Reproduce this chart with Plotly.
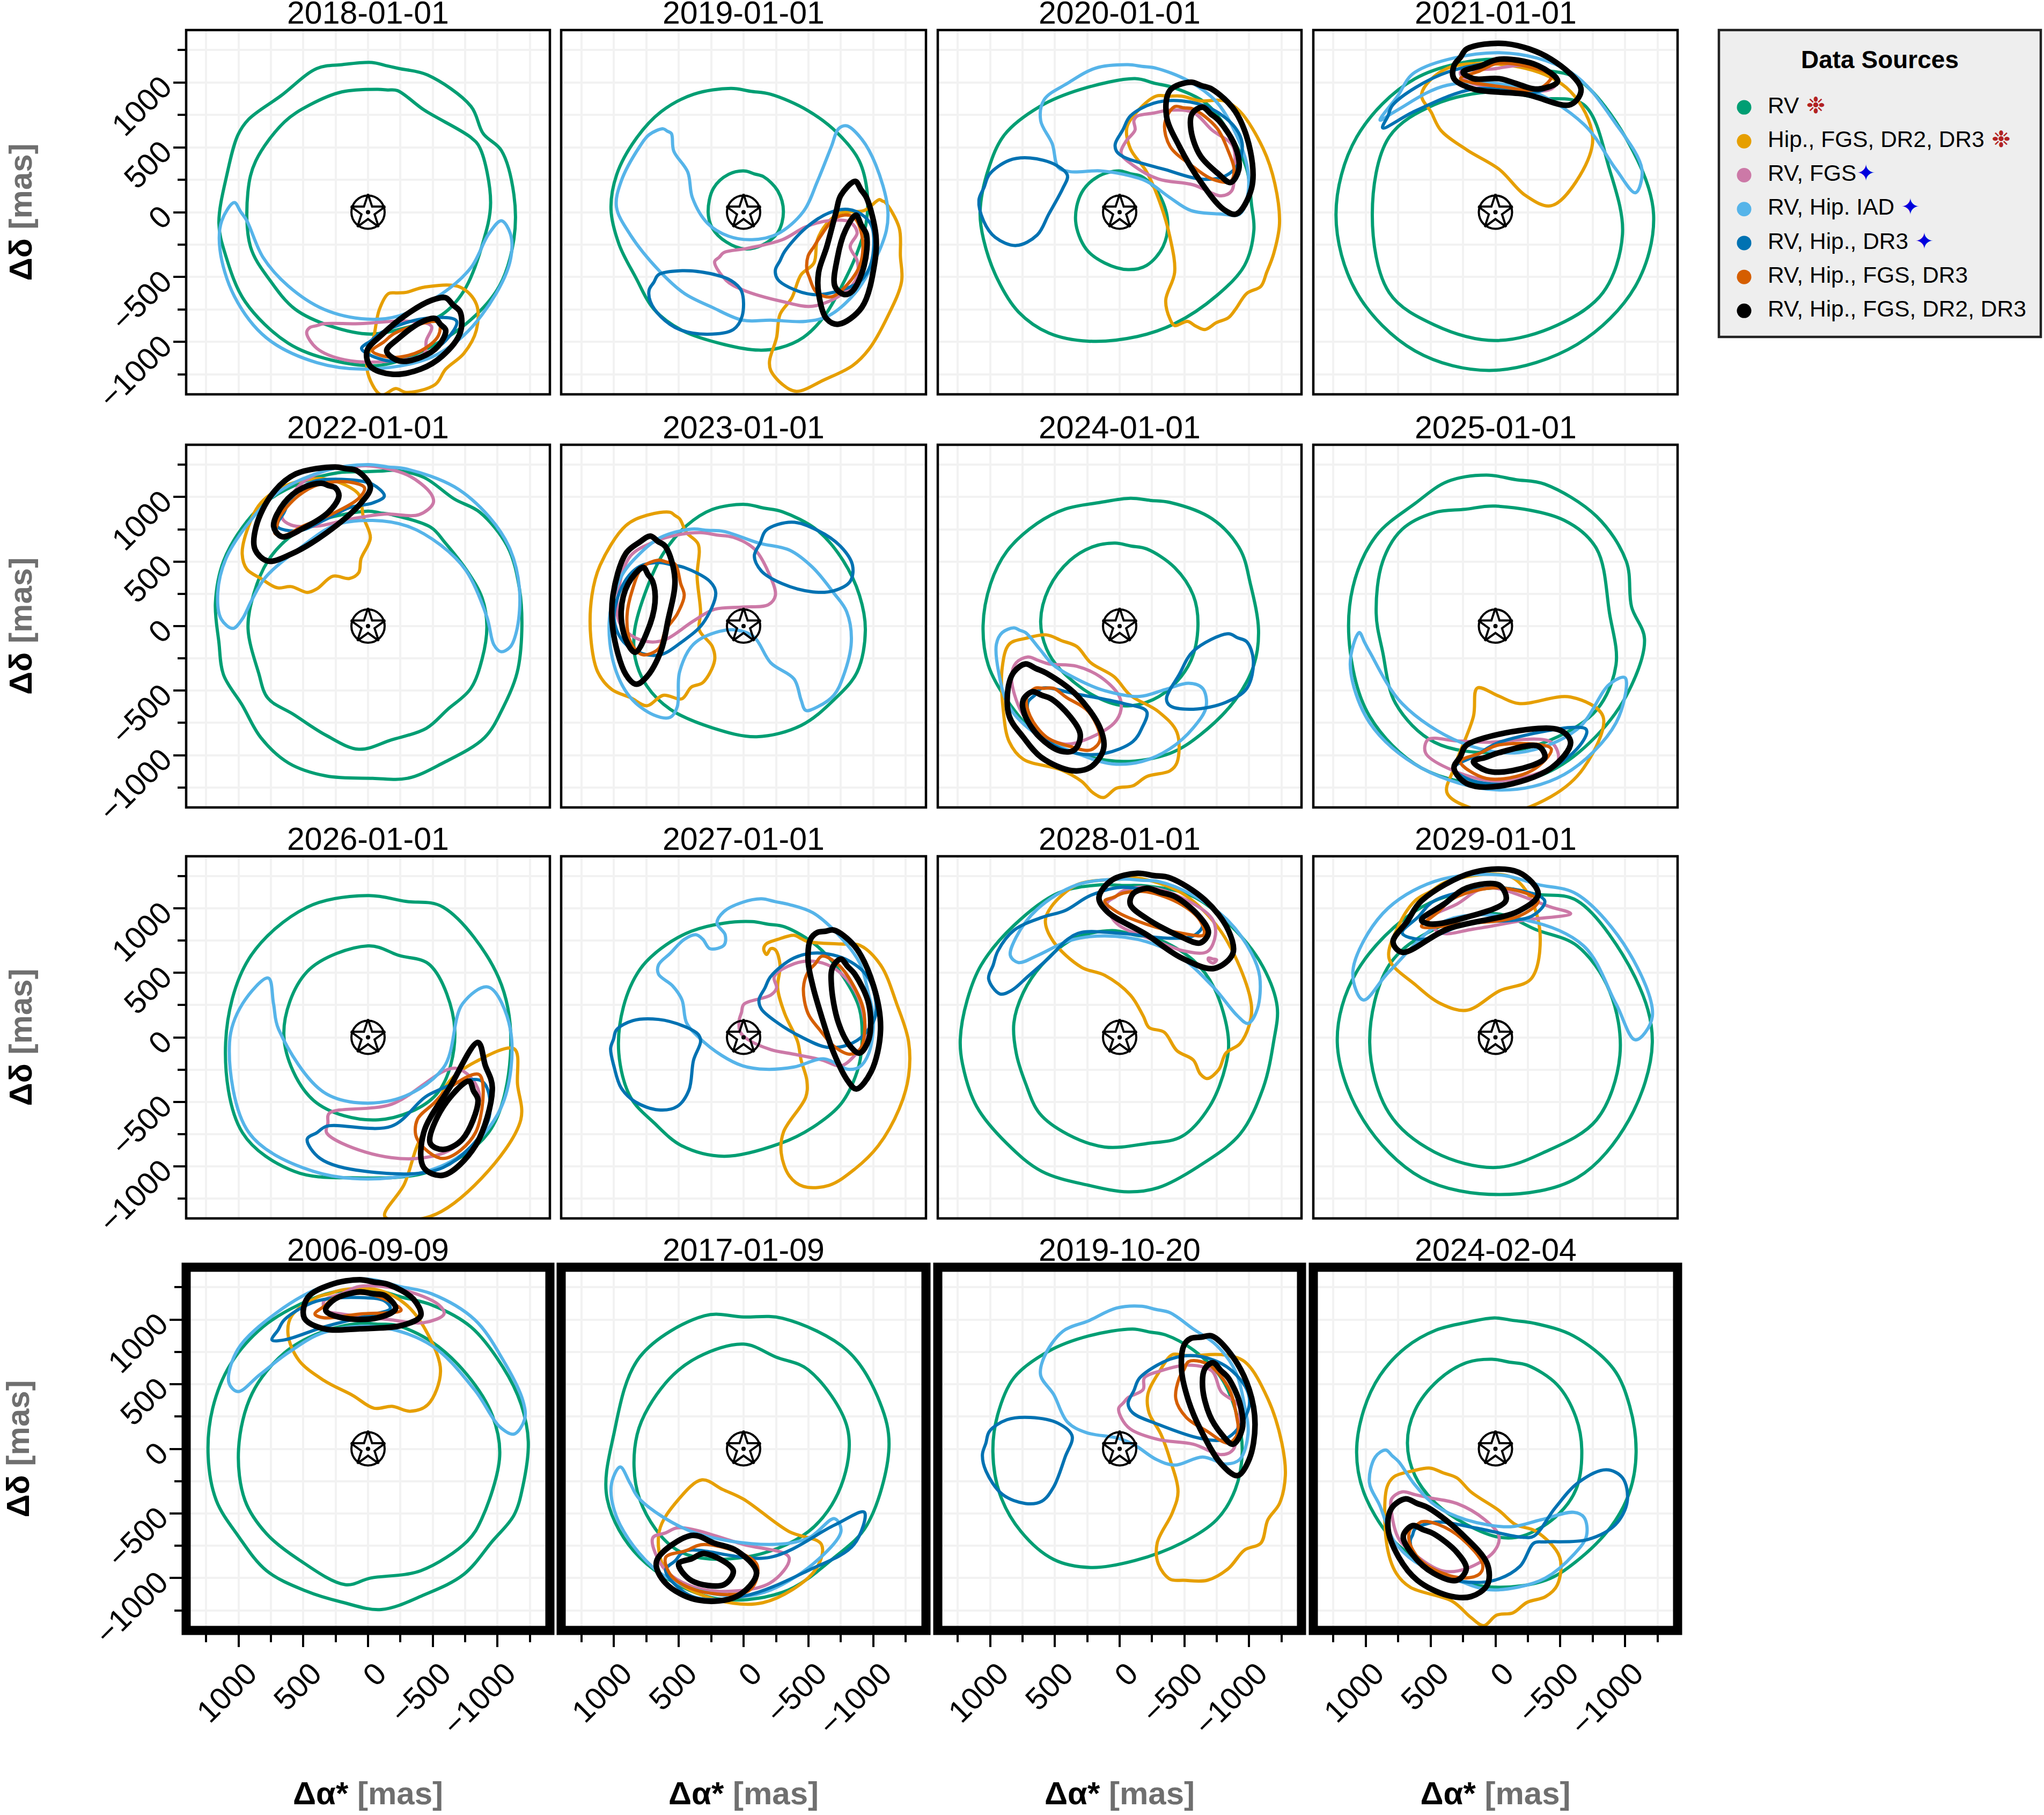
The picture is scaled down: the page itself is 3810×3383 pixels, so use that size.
import plotly.graph_objects as go

W, H = 3810, 3383
DATES = ["2018-01-01","2019-01-01","2020-01-01","2021-01-01",
         "2022-01-01","2023-01-01","2024-01-01","2025-01-01",
         "2026-01-01","2027-01-01","2028-01-01","2029-01-01",
         "2006-09-09","2017-01-09","2019-10-20","2024-02-04"]
SOURCES = ["RV","Hip., FGS, DR2, DR3","RV, FGS","RV, Hip. IAD","RV, Hip., DR3","RV, Hip., FGS, DR3","RV, Hip., FGS, DR2, DR3"]
COLORS = ["#009E73","#E69F00","#CC79A7","#56B4E9","#0072B2","#D55E00","#000000"]

# Contours in mas: flat x,y,x,y,... lists; each source has one or two closed contours
a18_rv = [[-30,1155,-240,1108,-460,1058,-795,817,-890,606,-1030,476,-1127,135,-1127,-207,-1016,-568,-795,-829,-462,-1050,-100,-1180,285,-1140,618,-1010,950,-689,1102,-327,1152,-86,1089,295,1005,596,922,717,673,898,396,1108,200,1138],
          [-75,948,-227,938,-435,787,-795,576,-864,496,-947,74,-878,-267,-740,-608,-573,-789,-296,-889,-19,-940,285,-880,562,-749,756,-528,908,-267,928,155,867,396,645,697,451,827,202,928]]
a18_hip = [[-158,-628,-296,-618,-435,-578,-712,-578,-837,-709,-837,-910,-740,-1090,-600,-1211,-518,-1330,-296,-1390,-213,-1360,-102,-1410,8,-1210,-47,-950,-88,-749]]
a18_fgs = [[450,-890,340,-860,64,-860,-296,-840,-490,-880,-450,-990,-435,-1090,-158,-1150,175,-1140,396,-1050,474,-930]]
a18_iad = [[1033,74,936,-66,812,-347,618,-568,341,-749,8,-825,-241,-799,-573,-628,-795,-428,-933,-167,-1030,-66,-1100,-167,-1100,-367,-989,-628,-740,-950,-463,-1130,8,-1210,396,-1160,784,-970,1033,-648,1144,-287,1130,-66]]
a18_dr3 = [[50,-1050,-100,-930,-435,-820,-684,-840,-600,-990,-407,-1110,-185,-1150,8,-1090]]
a18_mix = [[-33,-1070,-213,-930,-545,-850,-545,-950,-407,-1070,-185,-1120]]
a18_all = [[-600,-660,-712,-770,-712,-930,-573,-1110,-407,-1210,-185,-1250,-19,-1190,8,-1070,-102,-950,-296,-790,-490,-680],
           [-518,-820,-600,-910,-545,-1030,-407,-1120,-240,-1147,-144,-1070,-240,-970,-407,-850]]

a19_rv = [[97,955,-208,910,-495,784,-729,605,-890,398,-953,147,-944,-86,-872,-320,-765,-553,-621,-804,-460,-966,-280,-1046,-118,-1064,151,-1020,474,-912,689,-750,833,-499,959,-248,1021,22,977,291,833,560,635,775,384,910],
          [-10,318,-155,273,-263,165,-307,4,-263,-158,-137,-257,-11,-284,133,-230,241,-122,273,4,232,184,115,292]]
a19_hip = [[-1046,97,-1091,76,-1199,-122,-1208,-338,-1217,-536,-1109,-806,-965,-1058,-839,-1184,-623,-1292,-407,-1382,-299,-1328,-209,-1220,-200,-1148,-254,-968,-281,-788,-371,-662,-443,-482,-542,-392,-569,-212,-659,-68,-749,-5,-929,13]]
a19_fgs = [[223,-383,151,-311,-29,-279,-299,-212,-479,-113,-659,-65,-821,-77,-875,-158,-821,-266,-875,-374,-875,-500,-767,-626,-533,-725,-299,-689,7,-599,133,-527]]
a19_iad = [[619,643,556,607,538,472,430,310,394,112,277,-86,115,-185,-65,-212,-263,-167,-460,4,-569,238,-677,508,-731,643,-794,666,-911,562,-1019,364,-1109,40,-1100,-140,-983,-428,-857,-626,-659,-797,-479,-842,-209,-833,7,-833,241,-734,457,-626,655,-446,871,-176,979,40,943,238,799,508,727,598]]
a19_dr3 = [[-245,-446,-317,-302,-479,-122,-659,-5,-803,22,-929,-32,-992,-122,-983,-392,-893,-536,-695,-617,-533,-635,-353,-581,-263,-518],
           [727,-599,655,-482,493,-452,259,-473,97,-527,16,-608,11,-802,79,-905,277,-941,493,-905,637,-806,718,-689]]
a19_mix = [[-497,-338,-587,-194,-713,-41,-839,-32,-911,-176,-902,-392,-803,-554,-677,-653,-560,-617,-506,-500,-488,-446]]
a19_all = [[-860,238,-947,112,-1019,-176,-1010,-392,-911,-734,-731,-864,-641,-824,-578,-626,-578,-464,-641,-266,-713,4,-749,130],
           [-866,-23,-947,-176,-929,-410,-839,-608,-776,-635,-704,-572,-722,-356,-785,-140]]

a20_rv = [[-119,1030,-425,958,-677,832,-875,562,-983,328,-1019,58,-1037,-140,-965,-410,-749,-644,-425,-860,-137,-959,241,-995,547,-932,781,-770,943,-518,1051,-212,1078,4,1015,328,889,598,619,814,295,949],
          [7,319,-173,274,-299,148,-371,-68,-335,-266,-209,-410,-65,-443,115,-392,259,-284,340,-68,295,148,169,274]]
a20_hip = [[-281,895,-479,895,-623,859,-803,859,-929,778,-1109,490,-1199,220,-1235,-86,-1190,-320,-1136,-464,-1091,-572,-983,-626,-893,-752,-839,-815,-749,-851,-659,-905,-587,-878,-524,-842,-425,-875,-389,-824,-356,-680,-425,-464,-389,-194,-317,58,-209,310,-83,490,-56,652,-137,778]]
a20_fgs = [[-137,742,-389,787,-569,769,-713,634,-875,508,-884,292,-866,166,-785,126,-569,211,-299,256,-101,364,-11,454,-47,544,-119,634,-110,706]]
a20_iad = [[-65,1138,-281,1111,-533,1012,-749,850,-893,616,-983,364,-992,148,-929,-14,-785,-14,-551,13,-389,112,-209,238,-29,292,151,319,385,313,475,346,520,526,610,706,583,868,403,994,187,1111]]
a20_dr3 = [[34,526,-83,742,-263,841,-479,859,-713,796,-893,652,-947,526,-911,364,-803,274,-623,256,-353,328,-29,427,25,472],
           [1087,94,1006,292,853,400,691,418,493,364,403,283,439,184,547,-14,637,-176,799,-257,961,-194,1051,-68]]
a20_mix = [[-425,814,-569,796,-749,652,-839,472,-884,328,-857,238,-713,256,-551,364,-389,508,-349,688]]
a20_all = [[-551,1003,-713,949,-893,778,-1010,472,-1019,184,-902,-14,-803,22,-623,238,-461,508,-362,742,-389,940],
           [-641,810,-767,706,-893,508,-920,328,-857,229,-767,292,-623,436,-551,634,-560,760]]

a21_rv = [[0,1180,-630,1030,-1030,530,-1220,-20,-1080,-570,-630,-1020,20,-1220,620,-1070,1070,-620,1230,-20,1070,580,620,1030],
          [0,930,-680,830,-880,330,-980,-170,-830,-620,-480,-870,0,-990,470,-870,820,-620,950,-20,820,580,470,830]]
a21_hip = [[570,910,420,630,220,480,-30,330,-230,130,-430,50,-650,280,-750,580,-580,930,-230,1110,370,1110]]
a21_fgs = [[270,1080,-230,1130,-480,1030,-430,950,-130,950,220,1010]]
a21_iad = [[890,710,620,1080,-30,1230,-580,1080,-930,680,-1130,330,-1080,150,-930,330,-680,680,-230,950,370,980,770,780]]
a21_dr3 = [[870,650,790,830,370,1080,-230,1150,-480,1030,-330,930,170,950,620,780]]
a21_mix = [[270,1030,-30,1150,-430,1050,-330,950,-30,970]]
a21_all = [[320,1130,220,1260,-80,1300,-430,1180,-660,950,-580,830,-230,910,170,950,320,1030],
           [250,1080,-30,1180,-330,1130,-480,1010,-330,950,-30,1030,170,1030]]

a22_rv = [[0,1197,-216,1206,-432,1152,-666,985,-864,882,-1080,612,-1170,288,-1188,-36,-1152,-360,-1044,-630,-900,-864,-576,-1062,-306,-1179,-36,-1179,324,-1161,612,-1062,828,-864,972,-612,1116,-378,1152,-126,1179,180,1116,504,936,810,774,972,504,1116,234,1188],
          [0,891,-180,864,-486,765,-594,648,-774,414,-882,216,-918,0,-882,-252,-792,-486,-612,-648,-450,-792,-180,-882,72,-954,324,-846,576,-684,774,-558,846,-360,927,-18,882,252,774,504,612,684,396,810]]
a22_hip = [[360,1143,216,1111,72,1021,36,846,-18,684,54,522,72,414,144,369,270,387,396,288,468,261,594,306,702,297,828,369,936,441,972,558,936,738,828,954,612,1098]]
a22_fgs = [[252,1224,0,1242,-306,1170,-486,1026,-504,954,-396,864,-126,868,144,828,396,774,594,783,666,846,540,1080,414,1170]]
a22_iad = [[0,1251,-306,1215,-666,1080,-936,846,-1098,594,-1170,288,-1152,-18,-1098,-162,-1026,-198,-972,-144,-918,72,-756,432,-558,630,-306,774,-36,819,252,783,540,594,792,378,900,198,972,54,1044,-18,1134,54,1161,252,1098,522,900,828,684,1044,324,1206]]
a22_dr3 = [[702,774,594,990,432,1116,144,1134,-36,1098,-126,1008,-36,954,144,918,324,828,540,738]]
a22_mix = [[720,720,684,846,540,1008,378,1098,144,1116,27,1071,72,990,288,864,504,774,648,702]]
a22_all = [[252,1233,90,1206,-18,1080,54,954,324,720,594,558,774,504,873,594,864,774,738,1026,558,1179],
           [360,1107,252,1071,225,1008,306,882,504,756,666,693,729,774,648,954,504,1071]]

a23_rv = [[-11,943,-299,886,-569,742,-767,508,-893,238,-938,-32,-875,-356,-695,-572,-443,-770,-101,-857,241,-788,565,-644,745,-464,835,-248,839,-32,745,292,619,562,439,778,241,904]]
a23_hip = [[565,882,493,832,439,724,349,634,358,382,331,112,340,-32,241,-158,223,-266,313,-437,403,-473,475,-563,619,-536,745,-617,871,-554,1015,-491,1123,-356,1177,-86,1168,238,1105,472,907,778,745,859]]
a23_fgs = [[331,724,79,688,-83,598,-191,418,-245,238,-191,166,7,148,223,130,385,40,601,-104,727,-122,871,-68,961,40,961,292,871,544,691,652,511,706]]
a23_iad = [[403,751,151,733,-119,643,-353,589,-533,454,-695,256,-794,112,-830,-122,-767,-392,-695,-536,-569,-626,-479,-653,-443,-572,-389,-410,-209,-284,-83,-86,43,-32,187,-41,385,-140,493,-356,511,-626,565,-707,691,-689,871,-554,997,-302,1033,58,943,382,799,562,637,688]]
a23_dr3 = [[646,493,457,454,259,346,214,256,313,22,475,-122,637,-221,781,-212,925,-122,997,58,925,328,799,463],
           [-83,544,-173,742,-371,805,-569,742,-749,616,-839,472,-821,346,-695,274,-533,265,-299,328,-137,427]]
a23_mix = [[655,511,529,481,484,328,457,238,511,94,601,-32,655,-176,781,-221,871,-122,898,76,853,292,781,454]]
a23_all = [[718,697,601,616,529,364,583,40,637,-194,745,-392,826,-450,907,-374,1006,-32,1006,238,907,562,799,652],
           [772,454,700,346,682,184,745,-50,835,-203,907,-104,943,112,889,328]]

a24_rv = [[-83,990,-389,958,-713,832,-929,598,-1010,328,-1073,-32,-1037,-302,-893,-572,-623,-842,-389,-986,-29,-1049,331,-986,637,-842,871,-572,1015,-302,1055,4,997,328,871,580,637,796,421,907,151,958],
          [34,643,-209,598,-425,454,-569,238,-605,4,-551,-266,-389,-482,-209,-590,-29,-617,205,-536,457,-338,565,-176,610,40,547,292,385,508,205,616]]
a24_hip = [[565,-68,331,-158,223,-284,43,-392,-83,-536,-299,-662,-443,-824,-443,-1058,-389,-1121,-209,-1166,-101,-1238,25,-1256,124,-1328,205,-1292,295,-1202,457,-1112,745,-1031,853,-896,898,-662,907,-320,853,-140,727,-95]]
a24_fgs = [[709,-239,547,-293,331,-311,151,-392,7,-536,-11,-644,43,-752,259,-878,421,-914,601,-842,727,-716,799,-572,835,-392,799,-284]]
a24_iad = [[817,-14,727,-50,619,-176,511,-302,295,-428,115,-500,-155,-545,-353,-491,-533,-443,-641,-482,-668,-626,-569,-788,-389,-950,-173,-1049,61,-1067,331,-986,637,-842,853,-626,935,-356,952,-140,907,-50]]
a24_dr3 = [[-839,-59,-983,-122,-1033,-266,-983,-482,-821,-590,-569,-644,-389,-617,-362,-563,-461,-374,-569,-194],
           [709,-590,601,-482,331,-527,-29,-599,-209,-662,-173,-788,-101,-896,115,-986,331,-986,547,-896,691,-716]]
a24_mix = [[655,-482,511,-482,409,-554,241,-662,151,-878,223,-959,385,-932,565,-860,691,-698,718,-554]]
a24_all = [[727,-293,565,-365,331,-536,151,-790,124,-950,223,-1092,367,-1120,601,-1020,745,-860,853,-698,862,-482,817,-356],
           [673,-509,529,-563,385,-698,304,-842,349,-959,457,-968,619,-860,736,-680,745,-572]]

a25_rv = [[70,1170,-380,1100,-780,850,-1010,500,-1050,150,-1150,-100,-1030,-500,-780,-850,-430,-1120,0,-1230,570,-1100,970,-700,1120,-200,1100,300,920,700,620,950,370,1120],
          [470,880,0,930,-530,820,-780,600,-880,100,-930,-300,-780,-650,-430,-880,0,-980,470,-900,770,-600,870,-200,920,100,870,500,720,750]]
a25_hip = [[140,-480,-180,-600,-580,-550,-830,-700,-680,-1100,-430,-1320,-30,-1450,370,-1300,320,-1100,170,-700]]
a25_fgs = [[520,-880,70,-900,-430,-900,-480,-1050,-30,-1200,370,-1100,540,-980]]
a25_iad = [[1050,-50,970,-200,720,-600,270,-900,-180,-980,-630,-800,-880,-450,-1000,-400,-930,-750,-530,-1150,-30,-1270,570,-1100,970,-750,1120,-300]]
a25_dr3 = [[320,-1100,-30,-900,-700,-800,-630,-950,-230,-1200,170,-1200]]
a25_mix = [[270,-1050,-30,-920,-430,-950,-280,-1120,70,-1180]]
a25_all = [[320,-1100,220,-920,-480,-800,-580,-900,-430,-1100,-30,-1240,220,-1220],
           [170,-1050,-30,-980,-330,-930,-380,-1020,-130,-1120,70,-1120]]

a26_rv = [[0,1100,-580,1010,-1010,460,-1100,-140,-930,-740,-480,-1040,120,-1090,570,-1040,970,-740,1100,-40,920,610,470,1010],
          [0,710,-480,560,-670,60,-530,-440,-80,-640,420,-490,650,10,470,510]]
a26_hip = [[-1130,-90,-1180,-640,-880,-1090,-480,-1390,-130,-1390,-280,-1140,-380,-840,-480,-640,-630,-340,-830,-190]]
a26_fgs = [[320,-740,300,-590,-180,-520,-680,-240,-860,-440,-680,-840,-380,-940,20,-890]]
a26_iad = [[770,460,690,60,320,-440,-180,-490,-580,-240,-730,260,-930,390,-1100,60,-1030,-540,-680,-940,-180,-1090,420,-1040,920,-740,1070,-40,970,260]]
a26_dr3 = [[470,-790,320,-690,-180,-690,-480,-440,-880,-340,-930,-640,-580,-1010,20,-1040,370,-940]]
a26_mix = [[-380,-640,-630,-390,-860,-290,-830,-740,-580,-940,-380,-790]]
a26_all = [[-850,-40,-960,-390,-830,-840,-580,-1070,-430,-1010,-430,-740,-630,-390],
           [-780,-340,-850,-490,-730,-790,-580,-870,-480,-820,-580,-540]]

a27_rv = [[-65,898,-317,857,-569,706,-767,472,-893,220,-911,-68,-875,-266,-749,-518,-533,-698,-281,-824,151,-923,475,-842,691,-662,871,-464,961,-122,925,238,799,526,637,688,403,823,151,886]]
a27_hip = [[-389,792,-497,742,-749,724,-893,715,-1055,562,-1181,256,-1271,-32,-1271,-302,-1199,-554,-1037,-842,-857,-1022,-659,-1148,-461,-1157,-353,-1076,-290,-896,-308,-734,-479,-464,-488,-338,-443,-176,-416,-32,-317,184,-263,382,-281,562,-245,679,-209,688,-178,643,-155,684,-173,724,-263,760]]
a27_fgs = [[34,130,-2,256,-209,328,-254,382,-236,472,-389,571,-551,589,-713,526,-857,364,-929,148,-929,-32,-857,-140,-749,-221,-605,-176,-389,-131,-209,-95,-29,-14,25,40]]
a27_iad = [[-137,1075,-353,1030,-533,967,-713,814,-893,580,-965,328,-1001,148,-965,-122,-893,-230,-803,-248,-623,-167,-389,-230,-173,-248,7,-221,169,-140,349,4,439,112,475,292,547,400,655,490,655,562,565,652,457,760,367,796,313,760,259,688,151,715,142,796,205,886,151,976,7,1048]]
a27_dr3 = [[-119,292,-209,472,-389,616,-569,655,-803,598,-965,454,-1019,184,-929,22,-803,-59,-641,-77,-443,4,-263,112,-137,220],
           [1024,-86,979,58,853,130,655,139,457,85,349,22,331,-32,385,-176,421,-410,511,-536,655,-563,835,-500,943,-392,997,-230]]
a27_mix = [[-497,508,-605,630,-731,562,-857,382,-929,184,-902,-86,-821,-131,-695,-68,-587,58,-497,184,-461,382]]
a27_all = [[-569,814,-695,832,-857,706,-1001,400,-1055,58,-983,-266,-869,-401,-803,-338,-695,-122,-605,148,-533,400,-497,598,-515,760],
           [-749,607,-857,490,-965,256,-965,-14,-893,-122,-821,-68,-731,112,-677,400,-686,544]]

a28_rv = [[151,1183,-209,1174,-569,1093,-893,832,-1109,544,-1217,238,-1190,-32,-1109,-392,-929,-752,-605,-1004,-299,-1166,-65,-1199,241,-1148,601,-1040,871,-824,1105,-536,1213,-212,1231,-14,1177,292,1069,562,817,868,475,1120],
          [61,828,-299,760,-569,598,-731,382,-839,4,-821,-212,-695,-536,-479,-770,-209,-824,115,-851,403,-752,619,-590,727,-356,799,-122,817,112,745,346,601,562,367,760]]
a28_hip = [[79,1224,-137,1237,-479,1120,-749,868,-929,544,-1019,238,-1001,94,-929,-50,-821,-122,-767,-248,-677,-320,-623,-284,-569,-176,-443,-104,-344,40,-227,76,-182,166,-83,328,115,481,295,544,511,742,574,904,529,1012,331,1183]]
a28_fgs = [[97,1040,-29,1138,-209,1165,-479,1084,-713,922,-740,796,-677,665,-497,670,-299,742,25,886],
           [-686,616,-749,601,-722,576,-686,598]]
a28_iad = [[-29,1228,-299,1210,-569,1102,-839,904,-1019,652,-1082,472,-1064,220,-992,108,-911,166,-731,382,-479,616,-209,742,115,787,385,751,637,634,781,580,844,634,799,778,637,994,331,1183]]
a28_dr3 = [[1012,454,941,670,815,832,599,931,419,985,223,1102,-29,1165,-389,1084,-569,976,-641,868,-569,787,-389,769,-29,805,295,814,403,760,547,616,709,472,835,364,925,337]]
a28_mix = [[115,1057,-29,1120,-209,1129,-479,1030,-623,904,-650,796,-497,805,-209,877,25,976]]
a28_all = [[-137,1273,-389,1237,-659,1066,-839,832,-875,652,-731,535,-479,616,-209,796,97,976,160,1084,61,1219],
           [-209,1156,-425,1093,-605,950,-686,814,-623,733,-479,778,-209,922,-83,1030,-101,1111]]

a29_rv = [[0,1160,-630,1060,-1080,460,-1210,-40,-1030,-640,-630,-1090,-30,-1220,570,-1090,1020,-640,1220,-40,1070,510,570,1010],
          [0,960,-630,710,-880,360,-960,-140,-780,-640,-380,-890,0,-1010,470,-890,820,-590,970,-40,820,560,470,840]]
a29_hip = [[620,1060,370,1210,-130,1240,-330,910,-280,460,-30,360,220,210,420,260,620,410,820,610,750,860]]
a29_fgs = [[520,910,70,1160,-430,1010,-580,960,-230,910,170,840,420,810]]
a29_iad = [[-30,1260,-630,1110,-1030,660,-1210,160,-1080,-20,-930,260,-680,710,-230,910,370,910,820,510,1020,290,1100,510,870,960,470,1210]]
a29_dr3 = [[720,810,470,1060,-30,1160,-380,1060,-280,940,220,880,570,760]]
a29_mix = [[570,860,320,1080,-30,1160,-330,1060,-180,940,270,880]]
a29_all = [[790,740,570,1060,170,1280,-180,1280,-330,1110,-180,980,370,840,720,660],
           [570,910,220,1160,-30,1180,-80,1060,230,930,510,880]]

b06_rv = [[-47,1229,-490,1114,-795,943,-1044,629,-1183,343,-1238,57,-1197,-286,-1127,-514,-961,-714,-740,-971,-435,-1129,-102,-1243,202,-1186,479,-1100,784,-943,1005,-671,1172,-400,1235,-57,1200,314,1061,657,812,943,535,1114,258,1214],
          [64,971,-213,957,-490,829,-767,571,-961,257,-1017,-57,-878,-543,-767,-714,-407,-943,-19,-1000,175,-1051,535,-857,784,-657,950,-400,1000,0,895,429,645,743,368,900]]
b06_hip = [[396,1171,202,1229,-75,1229,-296,1114,-463,886,-560,600,-463,343,-324,291,-186,329,-47,314,119,414,341,529,535,686,618,886,590,1029]]
b06_fgs = [[341,1143,64,1257,-269,1229,-546,1114,-587,1043,-435,977,-158,1000,202,1043,327,1071]]
b06_iad = [[8,1314,-490,1200,-823,1000,-1044,686,-1197,371,-1210,229,-1127,114,-1017,171,-823,457,-490,800,-75,943,341,900,618,743,839,571,1005,443,1075,514,1005,771,701,1057,341,1257]]
b06_dr3 = [[742,843,645,1000,396,1143,64,1171,-130,1143,-172,1086,8,1029,341,943,645,843]]
b06_mix = [[410,1043,258,1171,8,1200,-213,1114,-255,1071,64,1043,341,1014]]
b06_all = [[64,1309,-158,1271,-352,1157,-407,1029,-269,957,64,929,341,929,493,1014,465,1171,285,1271],
           [64,1214,-130,1186,-213,1086,-75,1014,202,1014,327,1071,258,1157]]

b17_rv = [[300,1030,-300,1010,-800,760,-1050,360,-1120,10,-950,-590,-700,-840,-300,-1110,250,-1150,800,-840,1050,-390,1000,110,800,710],
          [0,810,-500,610,-800,160,-750,-290,-500,-640,0,-840,500,-790,800,-390,820,110,600,510,350,710]]
b17_hip = [[320,-240,0,-390,-350,-640,-600,-740,-550,-940,-150,-1190,300,-1140,600,-940,650,-640,500,-390]]
b17_fgs = [[700,-690,500,-610,0,-740,-350,-840,-200,-1040,300,-1090,600,-940]]
b17_iad = [[950,-140,800,-390,400,-640,-200,-740,-500,-690,-700,-540,-750,-640,-400,-990,0,-1140,600,-990,950,-590,1020,-290]]
b17_dr3 = [[600,-940,450,-790,-200,-840,-700,-590,-930,-490,-850,-740,-500,-940,0,-1140,400,-1140]]
b17_mix = [[600,-840,300,-740,-100,-890,-50,-1090,300,-1110,550,-990]]
b17_all = [[400,-670,50,-790,-100,-960,50,-1140,350,-1170,600,-1040,670,-870],
           [500,-890,300,-810,80,-940,150,-1050,400,-1020]]

b19_rv = [[-101,927,-353,882,-569,765,-785,549,-911,243,-947,-27,-893,-315,-749,-549,-479,-729,-119,-864,223,-918,511,-855,763,-639,925,-351,979,-27,943,261,817,549,547,756,241,873]]
b19_hip = [[-407,729,-569,720,-785,729,-965,675,-1145,387,-1253,45,-1280,-207,-1235,-423,-1145,-549,-1091,-729,-965,-783,-839,-927,-677,-1017,-497,-1017,-389,-1008,-299,-891,-290,-729,-407,-495,-451,-333,-389,-81,-317,117,-227,279,-218,423,-299,585]]
b19_fgs = [[7,315,-65,396,-182,459,-191,549,-317,603,-533,648,-713,603,-785,441,-920,333,-911,153,-875,-9,-785,-45,-569,36,-299,72,-83,153,-11,243]]
b19_iad = [[-173,1103,-389,1053,-569,927,-749,801,-893,603,-965,333,-992,117,-929,-81,-821,-117,-641,-63,-425,-126,-281,-81,-119,27,7,81,259,126,403,207,511,423,610,567,583,711,439,909,241,990,25,1089]]
b19_dr3 = [[-65,351,-155,549,-389,693,-587,720,-821,639,-983,459,-1001,333,-911,153,-803,72,-623,81,-299,189,-101,279],
           [1060,-45,1006,135,871,225,691,243,475,198,367,99,421,-63,511,-297,601,-405,727,-423,907,-351,1033,-171]]
b19_mix = [[-461,549,-533,675,-677,657,-839,477,-902,261,-911,117,-839,45,-677,135,-515,243,-434,387]]
b19_all = [[-551,855,-713,873,-875,711,-1001,459,-1046,189,-1001,-81,-911,-207,-785,-117,-623,153,-533,369,-479,603,-497,801],
           [-722,666,-839,549,-929,351,-947,153,-875,36,-785,117,-695,261,-641,477,-659,621]]

b24_rv = [[9,1013,-297,972,-603,873,-909,621,-1035,333,-1085,-27,-1035,-333,-891,-603,-621,-873,-387,-1017,-27,-1071,297,-1017,603,-855,819,-675,1017,-333,1071,-27,1017,297,891,567,693,783,459,918,207,981],
          [27,693,-243,648,-477,495,-621,243,-666,-9,-621,-315,-459,-531,-207,-675,-27,-684,225,-585,459,-423,621,-207,679,45,621,297,441,531,225,666]]
b24_hip = [[504,-149,297,-225,189,-333,-27,-477,-153,-585,-315,-639,-495,-837,-477,-1053,-387,-1143,-243,-1188,-135,-1269,-9,-1287,90,-1368,189,-1305,333,-1179,657,-1071,765,-963,837,-747,837,-297,783,-216,639,-171]]
b24_fgs = [[720,-333,513,-378,297,-423,81,-549,-27,-675,9,-792,225,-927,405,-945,621,-819,747,-693,801,-495,801,-387]]
b24_iad = [[846,-9,747,-99,621,-279,459,-441,225,-549,-117,-603,-351,-549,-603,-491,-684,-531,-702,-675,-603,-819,-387,-999,-171,-1071,63,-1089,333,-999,621,-873,783,-711,891,-441,972,-261,927,-63]]
b24_dr3 = [[657,-711,621,-621,459,-567,153,-612,-207,-684,-297,-675,-459,-459,-639,-261,-855,-162,-981,-225,-1017,-405,-927,-585,-711,-702,-387,-720,-297,-729,-189,-909,9,-1017,261,-1026,477,-963,621,-837]]
b24_mix = [[657,-621,567,-563,441,-585,261,-693,99,-891,117,-963,225,-999,405,-963,585,-855,666,-711]]
b24_all = [[693,-387,513,-459,261,-657,63,-891,63,-1053,189,-1143,369,-1134,603,-1017,747,-837,828,-621,801,-459],
           [639,-594,477,-657,297,-801,225,-927,297,-1017,477,-963,639,-819,711,-675]]

PANEL_SERIES = [
    [a18_rv,a18_hip,a18_fgs,a18_iad,a18_dr3,a18_mix,a18_all],
    [a19_rv,a19_hip,a19_fgs,a19_iad,a19_dr3,a19_mix,a19_all],
    [a20_rv,a20_hip,a20_fgs,a20_iad,a20_dr3,a20_mix,a20_all],
    [a21_rv,a21_hip,a21_fgs,a21_iad,a21_dr3,a21_mix,a21_all],
    [a22_rv,a22_hip,a22_fgs,a22_iad,a22_dr3,a22_mix,a22_all],
    [a23_rv,a23_hip,a23_fgs,a23_iad,a23_dr3,a23_mix,a23_all],
    [a24_rv,a24_hip,a24_fgs,a24_iad,a24_dr3,a24_mix,a24_all],
    [a25_rv,a25_hip,a25_fgs,a25_iad,a25_dr3,a25_mix,a25_all],
    [a26_rv,a26_hip,a26_fgs,a26_iad,a26_dr3,a26_mix,a26_all],
    [a27_rv,a27_hip,a27_fgs,a27_iad,a27_dr3,a27_mix,a27_all],
    [a28_rv,a28_hip,a28_fgs,a28_iad,a28_dr3,a28_mix,a28_all],
    [a29_rv,a29_hip,a29_fgs,a29_iad,a29_dr3,a29_mix,a29_all],
    [b06_rv,b06_hip,b06_fgs,b06_iad,b06_dr3,b06_mix,b06_all],
    [b17_rv,b17_hip,b17_fgs,b17_iad,b17_dr3,b17_mix,b17_all],
    [b19_rv,b19_hip,b19_fgs,b19_iad,b19_dr3,b19_mix,b19_all],
    [b24_rv,b24_hip,b24_fgs,b24_iad,b24_dr3,b24_mix,b24_all],
]

COLS = [(347,1025),(1046,1726),(1748,2426),(2448,3127)]
ROWS = [(56,735),(829,1505),(1596,2271),(2362,3039)]
FONT = "Liberation Sans"
RNG = 1405
GRID = "#f2f2f2"
GREY = "#6f6f6f"
# Page margins hold the axis labels and titles; the plot area runs from ML to W and from 0 to H-MB
ML, MB = 340, 340
PW, PH = W - ML, H - MB


def xdom(a, b):
    return [(a - ML) / PW, (b - ML) / PW]


def ydom(top, bottom):
    return [1 - bottom / PH, 1 - top / PH]


def closed_path(v):
    # start and end the drawn loop halfway along its first chord so the spline closes without a seam
    mx, my = (v[0] + v[2]) / 2, (v[1] + v[3]) / 2
    return [mx] + v[2::2] + [v[0], mx], [my] + v[3::2] + [v[1], my]


fig = go.Figure()
layout = dict(width=W, height=H, margin=dict(l=ML,r=0,t=0,b=MB), paper_bgcolor="white",
              plot_bgcolor="white", showlegend=False, font=dict(family=FONT, color="black", size=58))
shapes, annots = [], []

for i, date in enumerate(DATES):
    r, c = i // 4, i % 4
    sfx = "" if i == 0 else str(i + 1)
    x0, x1 = COLS[c]
    y0, y1 = ROWS[r]
    last, first = r == 3, c == 0
    tl = (30, 21) if last else (23, 15)
    xa = dict(domain=xdom(x0, x1), range=[RNG,-RNG], anchor="y"+sfx, zeroline=False, showline=False,
              tick0=0, dtick=500, showgrid=True, gridcolor=GRID, gridwidth=4,
              minor=dict(dtick=250, tick0=0, showgrid=True, gridcolor=GRID, gridwidth=4,
                         ticks="outside" if last else "", ticklen=tl[1], tickwidth=4, tickcolor="black"),
              ticks="outside" if last else "", ticklen=tl[0], tickwidth=4, tickcolor="black",
              showticklabels=last, tickangle=-45, tickfont=dict(size=58, family=FONT, color="black"),
              ticklabelstandoff=-8, ticklabelshift=-17)
    ya = dict(domain=ydom(y0, y1), range=[-RNG,RNG], anchor="x"+sfx, zeroline=False, showline=False,
              tick0=0, dtick=500, showgrid=True, gridcolor=GRID, gridwidth=4,
              minor=dict(dtick=250, tick0=0, showgrid=True, gridcolor=GRID, gridwidth=4,
                         ticks="outside" if first else "", ticklen=tl[1], tickwidth=4, tickcolor="black"),
              ticks="outside" if first else "", ticklen=tl[0], tickwidth=4, tickcolor="black",
              showticklabels=first, tickangle=-45, tickfont=dict(size=58, family=FONT, color="black"),
              ticklabelstandoff=8)
    if last:
        xa["title"] = dict(text=f'<b>Δα* <span style="color:{GREY}">[mas]</span></b>',
                           font=dict(size=60, family=FONT), standoff=75)
    if first:
        ya["title"] = dict(text=f'<b>Δδ <span style="color:{GREY}">[mas]</span></b>',
                           font=dict(size=60, family=FONT), standoff=92)
    layout["xaxis"+sfx] = xa
    layout["yaxis"+sfx] = ya

    for k, contours in enumerate(PANEL_SERIES[i]):
        for v in contours:
            px, py = closed_path(v)
            fig.add_trace(go.Scatter(x=px, y=py, mode="lines", name=SOURCES[k],
                                     line=dict(color=COLORS[k], width=10.5 if k == 6 else 6,
                                               shape="spline", smoothing=1.0),
                                     xaxis="x"+sfx, yaxis="y"+sfx, hoverinfo="skip"))
    # central star symbol
    for sym, size, lw in (("circle-open",62,4), ("star-open",48,4), ("circle",8,0)):
        fig.add_trace(go.Scatter(x=[0], y=[0], mode="markers", xaxis="x"+sfx, yaxis="y"+sfx, hoverinfo="skip",
                                 marker=dict(symbol=sym, size=size, color="black", line=dict(width=lw, color="black"))))
    shapes.append(dict(type="rect", xref=f"x{sfx} domain", yref=f"y{sfx} domain", x0=0, x1=1, y0=0, y1=1,
                       line=dict(color="black", width=17 if last else 4.5), layer="above"))
    annots.append(dict(text=date, xref=f"x{sfx} domain", yref=f"y{sfx} domain", x=0.5, y=1, xanchor="center",
                       yanchor="bottom", yshift=-3, showarrow=False,
                       font=dict(size=59, family=FONT, color="black")))

# legend panel
LX0, LX1, LY0, LY1 = 3204, 3804, 56, 628
layout["xaxis17"] = dict(domain=xdom(LX0, LX1), range=[0, LX1-LX0], anchor="y17", visible=False)
layout["yaxis17"] = dict(domain=ydom(LY0, LY1), range=[6.77,-2.28], anchor="x17", visible=False)
RED = '<span style="color:#b22222;font-family:DejaVu Sans"> ❉</span>'
BLUE = '<span style="color:#0000dd;font-family:DejaVu Sans">✦</span>'
LEGEND_TEXT = ["RV"+RED, "Hip., FGS, DR2, DR3"+RED, "RV, FGS"+BLUE, "RV, Hip. IAD "+BLUE,
               "RV, Hip., DR3 "+BLUE, "RV, Hip., FGS, DR3", "RV, Hip., FGS, DR2, DR3"]
idx = list(range(len(SOURCES)))
shapes.append(dict(type="rect", xref="x17 domain", yref="y17 domain", x0=0, x1=1, y0=0, y1=1,
                   fillcolor="#eeeeee", line=dict(color="#222222", width=4.5), layer="below"))
fig.add_trace(go.Scatter(x=[47]*7, y=idx, mode="markers", xaxis="x17", yaxis="y17", hoverinfo="skip",
                         marker=dict(size=27, color=COLORS, line=dict(width=0))))
fig.add_trace(go.Scatter(x=[91]*7, y=idx, mode="text", text=LEGEND_TEXT, textposition="middle right",
                         textfont=dict(size=42.5, family=FONT, color="black"), xaxis="x17", yaxis="y17", hoverinfo="skip"))
annots.append(dict(text="<b>Data Sources</b>", xref="x17 domain", yref="y17 domain", x=0.5, y=0.903, xanchor="center",
                   yanchor="middle", showarrow=False, font=dict(size=46, family=FONT, color="black")))

layout["shapes"] = shapes
layout["annotations"] = annots
fig.update_layout(**layout)
fig.write_html("out.html", config={"displayModeBar": False},
               post_script="document.documentElement.style.overflow='hidden';document.body.style.overflow='hidden';document.body.style.margin='0';")
